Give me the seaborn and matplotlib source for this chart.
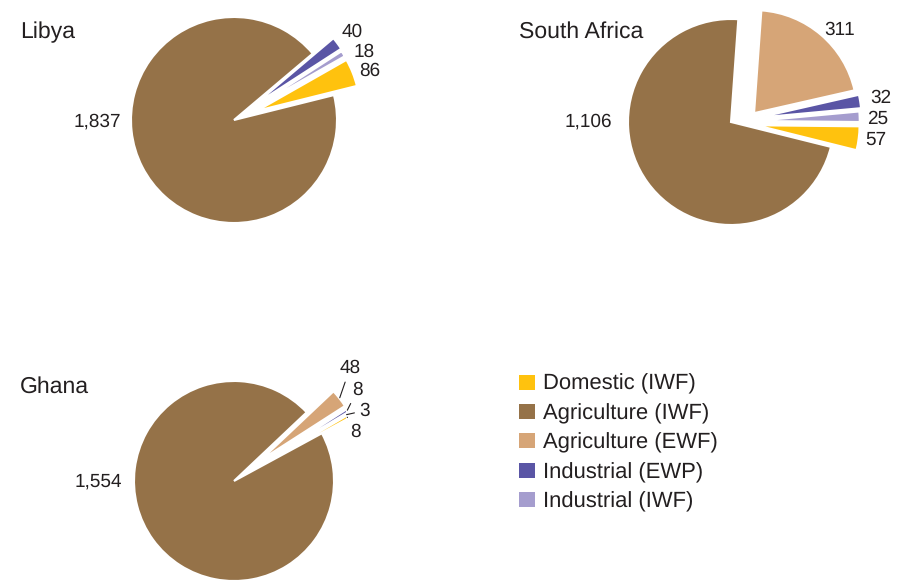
import matplotlib
matplotlib.use("Agg")
import numpy as np
import matplotlib.pyplot as plt
from matplotlib.patches import Patch
import seaborn as sns

# Water footprint components per country
categories = ["Domestic (IWF)", "Agriculture (IWF)", "Agriculture (EWF)",
              "Industrial (EWP)", "Industrial (IWF)"]
# order in which the wedges are laid out, counter-clockwise
slice_order = ["Domestic (IWF)", "Industrial (IWF)", "Industrial (EWP)",
               "Agriculture (EWF)", "Agriculture (IWF)"]

countries = ["Libya", "South Africa", "Ghana"]
libya_values = [86, 18, 40, 0, 1837]
south_africa_values = [57, 25, 32, 311, 1106]
ghana_values = [8, 3, 8, 48, 1554]
country_values = {"Libya": libya_values,
                  "South Africa": south_africa_values,
                  "Ghana": ghana_values}

colors = {
    "Domestic (IWF)": "#FFC20E",
    "Agriculture (IWF)": "#957248",
    "Agriculture (EWF)": "#D6A577",
    "Industrial (EWP)": "#5A55A5",
    "Industrial (IWF)": "#A59DCE",
}

TEXT = "#231F20"
W, H = 906, 582

# placement of each pie (pixel units, y measured from the top);
# label offsets are relative to the pie centre, y pointing up.
# pull_dir optionally overrides the direction (degrees) a slice is pulled out.
layout = {
    "Libya": dict(center=(234, 120), radius=103, start=14,
                  explode=[0.24, 0.24, 0.25, 0.0, 0.0],
                  pull_dir=[None] * 5,
                  labels=[(136, 49), (130, 68), (118, 88)],
                  title=(20, 32), big=(-113, -2), leaders=False),
    "South Africa": dict(center=(731, 122), radius=103, start=-14,
                         explode=[0.25, 0.25, 0.27, 0.24, 0.0],
                         pull_dir=[None, None, None, 21, None],
                         labels=[(145, -18), (147, 3), (150, 24), (109, 92)],
                         title=(519, 32), big=(-119, 0), leaders=False),
    "Ghana": dict(center=(234, 481), radius=100, start=28.5,
                  explode=[0.30, 0.30, 0.33, 0.34, 0.0],
                  pull_dir=[None] * 5,
                  labels=[(121, 49.5), (131, 70.5), (123.7, 91.5), (116, 113)],
                  title=(20, 387), big=(-112, -1), leaders=True),
}

sns.set_theme(style="white")
plt.rcParams["font.family"] = ["Liberation Sans", "DejaVu Sans"]
plt.rcParams["text.hinting"] = "no_hinting"
plt.rcParams["text.hinting_factor"] = 1

NUM_FS = 13.5
TITLE_FS = 16.3

fig = plt.figure(figsize=(W / 100, H / 100), dpi=100)
ax = fig.add_axes([0, 0, 1, 1])

for country in countries:
    cfg = layout[country]
    R = cfg["radius"]
    vals = country_values[country]
    keep = [i for i, v in enumerate(vals) if v > 0]
    v = [vals[i] for i in keep]
    cols = [colors[slice_order[i]] for i in keep]
    exp = [cfg["explode"][i] * R if cfg["pull_dir"][i] is None else 0.0
           for i in keep]
    cx, cy = cfg["center"][0], H - cfg["center"][1]
    wedges, _ = ax.pie(v, colors=cols, startangle=cfg["start"], explode=exp,
                       radius=R, center=(cx, cy), counterclock=True, frame=True,
                       wedgeprops=dict(edgecolor="white", linewidth=1.5))

    # slices pulled out along a custom direction
    for w, i in zip(wedges, keep):
        ang = cfg["pull_dir"][i]
        if ang is not None:
            e = cfg["explode"][i] * R
            w.set_center((cx + e * np.cos(np.deg2rad(ang)),
                          cy + e * np.sin(np.deg2rad(ang))))

    # angular midpoints of each wedge
    total = float(sum(v))
    mids, a0 = [], cfg["start"]
    for val in v:
        span = 360.0 * val / total
        mids.append(np.deg2rad(a0 + span / 2))
        a0 += span

    small = keep[:-1]
    for k, i in enumerate(small):
        tx, ty = cfg["labels"][k]
        if cfg["leaders"]:
            d = (cfg["explode"][i] + 1.0) * R
            ax.annotate(f"{vals[i]:,}",
                        xy=(cx + d * np.cos(mids[k]), cy + d * np.sin(mids[k])),
                        xytext=(cx + tx, cy + ty), ha="center", va="center",
                        fontsize=NUM_FS, color=TEXT,
                        arrowprops=dict(arrowstyle="-", color=TEXT, lw=0.8,
                                        shrinkA=1.5, shrinkB=0.5))
        else:
            ax.text(cx + tx, cy + ty, f"{vals[i]:,}", ha="center",
                    va="center", fontsize=NUM_FS, color=TEXT)

    # large agriculture slice labelled on the left
    big = keep[-1]
    bx, by = cfg["big"]
    ax.text(cx + bx, cy + by, f"{vals[big]:,}", ha="right", va="center",
            fontsize=NUM_FS, color=TEXT)

    tx, ty = cfg["title"]
    ax.text(tx, H - ty, country, ha="left", va="center", fontsize=TITLE_FS,
            color=TEXT)

ax.set_xlim(0, W)
ax.set_ylim(0, H)
ax.set_aspect("equal")
ax.axis("off")

handles = [Patch(facecolor=colors[c], edgecolor="none", label=c)
           for c in categories]
leg = fig.legend(handles=handles, loc="upper left",
                 bbox_to_anchor=(519 / W, 1 - 374 / H), frameon=False,
                 fontsize=16, handlelength=0.7, handleheight=0.66,
                 handletextpad=0.36, labelspacing=0.40, borderpad=0,
                 borderaxespad=0)
for t in leg.get_texts():
    t.set_color(TEXT)

fig.savefig("out.png", dpi=100, facecolor="white")
